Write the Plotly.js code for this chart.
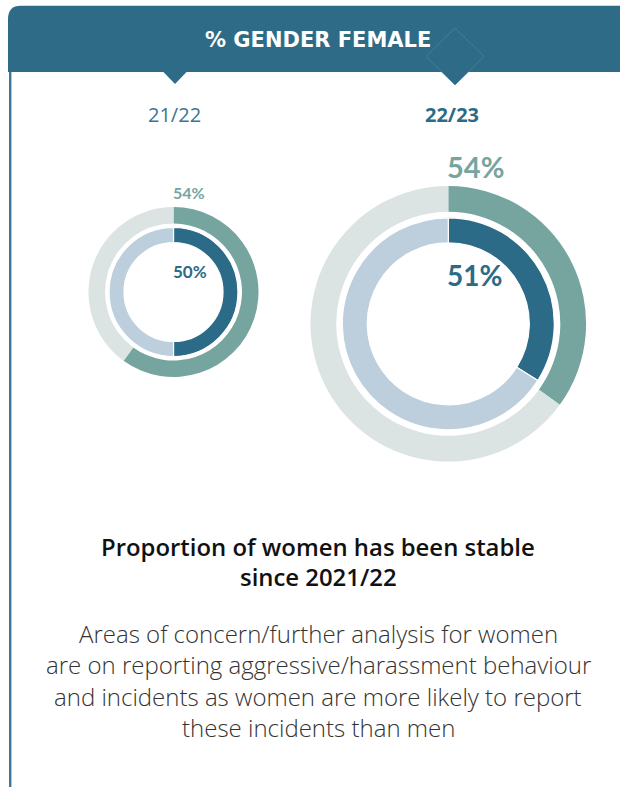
<!DOCTYPE html>
<html>
<head>
<meta charset="utf-8">
<script src="https://cdn.plot.ly/plotly-3.0.1.min.js"></script>
<style>
  html, body { margin: 0; padding: 0; background: #ffffff; }
  #chart { width: 620px; height: 787px; }
</style>
</head>
<body>
<div id="chart"></div>
<script>
// ---- data ----
const seasons = ['21/22', '22/23'];
const outerLabel = [54, 54];      // % shown above the outer ring
const innerLabel = [50, 51];      // % shown inside the inner ring
const outerArc = [60, 35];        // share of the outer ring drawn filled
const innerArc = [50, 34];        // share of the inner ring drawn filled
const headerText = '% GENDER FEMALE';
const headline = ['Proportion of women has been stable', 'since 2021/22'];
const bodyLines = [
  'Areas of concern/further analysis for women',
  'are on reporting aggressive/harassment behaviour',
  'and incidents as women are more likely to report',
  'these incidents than men'
];

// ---- style ----
const W = 620, H = 787;
const C = {
  banner: '#2d6b87',
  sage: '#76a59f',
  grey: '#dbe3e3',
  dark: '#2c6b87',
  light: '#bdcfdd',
  season: '#3b7592',
  text: '#2a2a2a'
};

// ring geometry (pixels): centre x, centre y, outer R, outer-hole r, inner R, inner-hole r
const geo = [
  {cx: 173.5, cy: 292, R1: 85, r1: 68.5, R2: 64.5, r2: 49.5},
  {cx: 448.3, cy: 323.8, R1: 137.8, r1: 112, R2: 106, r2: 81}
];
function dom(cx, cy, r) {
  return {x: [(cx - r) / W, (cx + r) / W], y: [1 - (cy + r) / H, 1 - (cy - r) / H]};
}

const traces = [];
seasons.forEach((s, i) => {
  const g = geo[i];
  traces.push({
    type: 'pie', sort: false, direction: 'clockwise', rotation: 0,
    values: [outerArc[i], 100 - outerArc[i]],
    labels: ['Female', 'Other'],
    marker: {colors: [C.sage, C.grey], line: {width: 0}},
    hole: g.r1 / g.R1, domain: dom(g.cx, g.cy, g.R1),
    textinfo: 'none', hoverinfo: 'skip', showlegend: false
  });
  traces.push({
    type: 'pie', sort: false, direction: 'clockwise', rotation: 0,
    values: [innerArc[i], 100 - innerArc[i]],
    labels: ['Female ', 'Other '],
    marker: {colors: [C.dark, C.light], line: {width: 1.2, color: '#ffffff'}},
    hole: g.r2 / g.R2, domain: dom(g.cx, g.cy, g.R2),
    textinfo: 'none', hoverinfo: 'skip', showlegend: false
  });
});

const ann = [];
function A(text, x, y, font, opts) {
  ann.push(Object.assign({
    text: text, x: x, y: y, xref: 'x', yref: 'y', showarrow: false,
    xanchor: 'center', yanchor: 'middle', borderpad: 0, borderwidth: 0,
    font: font
  }, opts || {}));
}

// header
A(headerText, 317.5, 39.5, {family: 'DejaVu Sans, sans-serif', size: 21, color: '#ffffff', weight: 700});
// season labels
A(seasons[0], 174, 114, {family: 'Open Sans, sans-serif', size: 20, color: C.season, weight: 400});
A(seasons[1], 452, 114, {family: 'Open Sans, sans-serif', size: 20, color: C.dark, weight: 700});
// ring labels
const lab = [
  {o: {y: 192.5, s: 16}, n: {y: 271.7, s: 17}},
  {o: {y: 166, s: 29}, n: {y: 275, s: 28}}
];
seasons.forEach((s, i) => {
  const g = geo[i];
  A(outerLabel[i] + '%', g.cx - 1, lab[i].o.y,
    {family: 'Lato, sans-serif', size: lab[i].o.s, color: C.sage, weight: 700}, {xanchor: 'left'});
  A(innerLabel[i] + '%', g.cx - 1, lab[i].n.y,
    {family: 'Lato, sans-serif', size: lab[i].n.s, color: C.dark, weight: 700}, {xanchor: 'left'});
});
// headline
const headY = [546, 576.5];
headline.forEach((t, k) => {
  A(t, 318, headY[k], {family: 'Open Sans, sans-serif', size: 23.9, color: '#111111', weight: 600});
});
// body
const bodyY = [633, 664, 696, 727];
bodyLines.forEach((t, k) => {
  A(t, 318, bodyY[k], {family: 'Open Sans, sans-serif', size: 24, color: '#333333', weight: 300});
});

const shapes = [
  // left border line
  {type: 'line', xref: 'x', yref: 'y', x0: 10.2, x1: 10.2, y0: 70, y1: 787, line: {color: '#3f7896', width: 2.4}, layer: 'below'},
  // banner with rounded top-left corner
  {type: 'path', xref: 'x', yref: 'y', path: 'M 8 72 L 8 19 Q 8 5.7 21 5.7 L 620 5.7 L 620 72 Z',
   fillcolor: C.banner, line: {width: 0}, layer: 'below'},
  // pointer under first season
  {type: 'path', xref: 'x', yref: 'y', path: 'M 163 71.5 L 187 71.5 L 175 84 Z',
   fillcolor: C.banner, line: {width: 0}, layer: 'below'},
  // diamond under second season
  {type: 'path', xref: 'x', yref: 'y', path: 'M 455 28 L 484 56.5 L 455 85 L 426 56.5 Z',
   fillcolor: C.banner, line: {width: 0.8, color: '#4a84a0'}, layer: 'below'}
];

const layout = {
  width: W, height: H,
  margin: {l: 0, r: 0, t: 0, b: 0, pad: 0},
  paper_bgcolor: '#ffffff', plot_bgcolor: 'rgba(0,0,0,0)',
  xaxis: {range: [0, W], visible: false, fixedrange: true, domain: [0, 1]},
  yaxis: {range: [H, 0], visible: false, fixedrange: true, domain: [0, 1]},
  showlegend: false,
  annotations: ann,
  shapes: shapes
};

// an invisible scatter so the pixel axes exist
traces.unshift({type: 'scatter', x: [0, W], y: [0, H], mode: 'markers', marker: {opacity: 0}, hoverinfo: 'skip', showlegend: false});

Plotly.newPlot('chart', traces, layout, {displayModeBar: false, staticPlot: true});
</script>
</body>
</html>
